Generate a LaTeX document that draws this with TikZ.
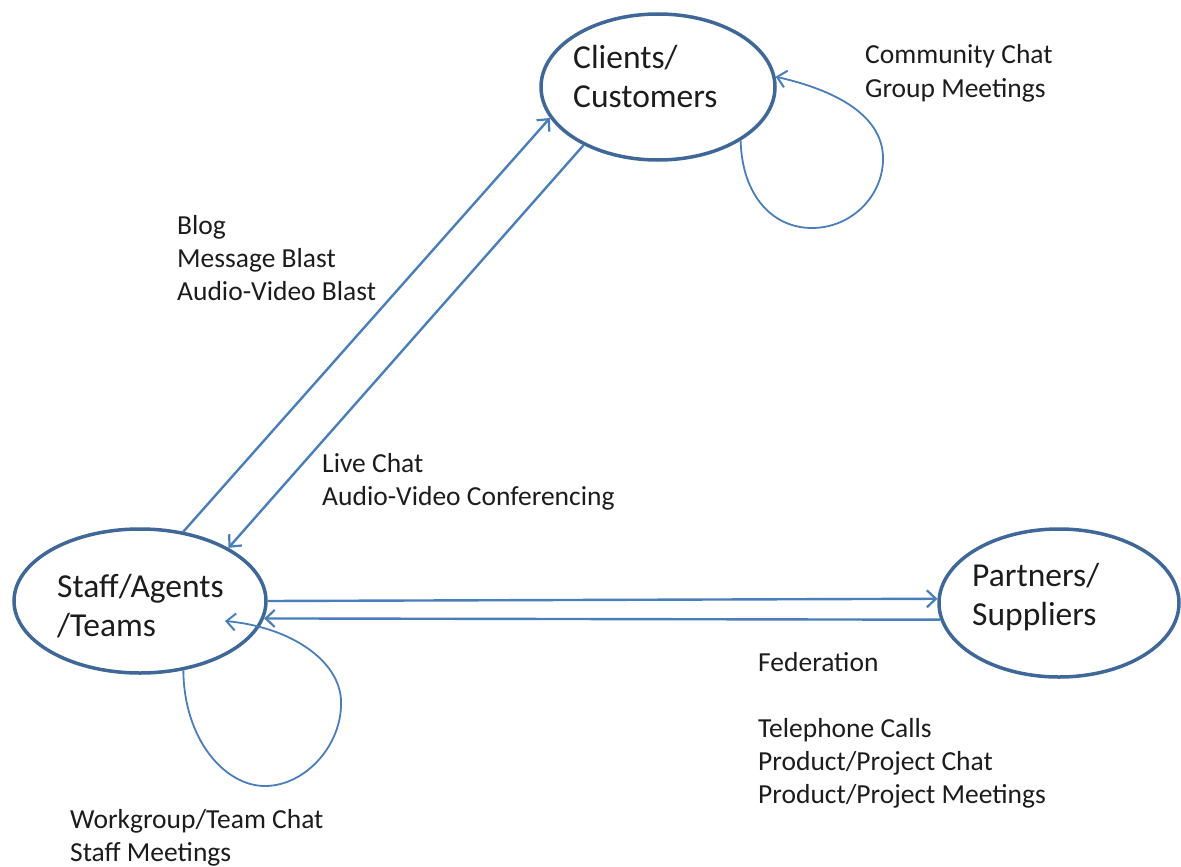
\documentclass[tikz,border=0pt]{standalone}
\usepackage{fontspec}
\setmainfont{Carlito}
\usetikzlibrary{arrows.meta,shapes.geometric}
\definecolor{ellc}{HTML}{3F6797}
\definecolor{arrc}{HTML}{4A7EBB}
\definecolor{txtc}{HTML}{1C1C1C}
\begin{document}
\begin{tikzpicture}[x=1pt,y=-1pt,
  ell/.style={ellipse, draw=ellc, line width=3.5pt, inner sep=0pt},
  big/.style={font=\fontsize{33.5}{39}\selectfont, align=left, inner sep=0pt, text=txtc},
  lbl/.style={font=\fontsize{27.5}{33}\selectfont, align=left, inner sep=0pt, text=txtc},
  arr/.style={draw=arrc, line width=2.4pt, -{Straight Barb[length=9pt,width=17pt,line width=2.2pt]}},
  loopc/.style={draw=arrc, line width=1.8pt, -{Straight Barb[length=9pt,width=17pt,line width=2pt]}}]
\useasboundingbox (0,0) rectangle (1181,867);

% ellipses
\node[ell, minimum width=234, minimum height=146] (cli) at (658,87) {};
\node[ell, minimum width=252, minimum height=144] (stf) at (140,601) {};
\node[ell, minimum width=240, minimum height=148] (par) at (1059,603) {};

% ellipse texts (anchor on the baseline of the last line)
\node[big, anchor=base west] (cliT) at (573,107) {Clients/\\Customers};
\node[big, anchor=base west] (stfT) at (57,636) {Staff/Agents\\/Teams};
\node[big, anchor=base west] (parT) at (972,625) {Partners/\\Suppliers};

% connectors
\draw[arr] (stf.58.3) -- (cli.196.3);
\draw[arr] (cli.218.3) -- (stf.31);
\draw[arr] (stf.0.5) -- (par.178.6);
\draw[arr] (par.188.2) -- (stf.-8.8);

% self loops
\coordinate (stfin) at (225,621);
\draw[loopc] (cli.-33.8) .. controls (742,195) and (772,228) .. (812,228)
  .. controls (852,228) and (884,195) .. (883,157)
  .. controls (882,115) and (835,90) .. (cli.5);
\draw[loopc] (stf.-58) .. controls (184,740) and (225,786) .. (265,786)
  .. controls (305,786) and (343,745) .. (341,700)
  .. controls (339,660) and (290,627) .. (stfin);

% labels (anchor on the baseline of the last line)
\node[lbl, anchor=base west] (l1) at (865,97) {Community Chat\\Group Meetings};
\node[lbl, anchor=base west] (l2) at (177,300) {Blog\\Message Blast\\Audio-Video Blast};
\node[lbl, anchor=base west] (l3) at (322,505) {Live Chat\\Audio-Video Conferencing};
\node[lbl, anchor=base west] (l4) at (758,803) {Federation\\[33pt]Telephone Calls\\Product/Project Chat\\Product/Project Meetings};
\node[lbl, anchor=base west] (l5) at (70,861) {Workgroup/Team Chat\\Staff Meetings};
\end{tikzpicture}
\end{document}
